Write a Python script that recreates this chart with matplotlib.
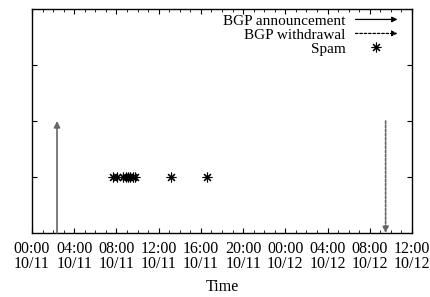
import matplotlib
matplotlib.use("Agg")
import matplotlib.pyplot as plt
from matplotlib.legend_handler import HandlerBase
from matplotlib.patches import FancyArrowPatch
from matplotlib.lines import Line2D

plt.rcParams['font.family'] = ['Liberation Serif', 'DejaVu Serif']

# Data (hours since 10/11 00:00)
announce_time = [2.37]
announce_from = [0]
announce_to = [2]
withdraw_time = [33.5]
withdraw_from = [2]
withdraw_to = [0]
spam_times = [7.65, 8.1, 8.6, 8.9, 9.1, 9.3, 9.55, 9.8, 13.15, 16.6]
spam_level = [1] * len(spam_times)

tick_hours = [0, 4, 8, 12, 16, 20, 24, 28, 32, 36]
tick_labels = ["00:00\n10/11", "04:00\n10/11", "08:00\n10/11", "12:00\n10/11",
               "16:00\n10/11", "20:00\n10/11", "00:00\n10/12", "04:00\n10/12",
               "08:00\n10/12", "12:00\n10/12"]
x_label = "Time"

fig = plt.figure(figsize=(4.31, 2.97), dpi=100)
ax = fig.add_axes([32/431, 1-233/297, 380/431, 224/297])

ax.set_xlim(0, 36)
ax.set_ylim(0, 4)

for t, y0, y1 in zip(announce_time, announce_from, announce_to):
    ax.annotate('', xy=(t, y1), xytext=(t, y0),
                arrowprops=dict(arrowstyle='-|>', mutation_scale=9, color='#666666',
                                lw=1.2, shrinkA=0, shrinkB=0))
for t, y0, y1 in zip(withdraw_time, withdraw_from, withdraw_to):
    ax.annotate('', xy=(t, y1), xytext=(t, y0),
                arrowprops=dict(arrowstyle='-|>', mutation_scale=9, color='#666666',
                                lw=1.2, linestyle=(0, (1.5, 1)), shrinkA=0, shrinkB=0))

ax.plot(spam_times, spam_level, linestyle='none', marker=(8, 2, 0),
        markersize=7, color='black', markeredgewidth=0.8)

ax.set_xticks(tick_hours)
ax.set_xticklabels(tick_labels, fontsize=11.5, linespacing=0.95)
ax.set_xticks(range(0, 37), minor=True)
ax.set_yticks([1, 2, 3])
ax.set_yticklabels([])
ax.tick_params(which='major', direction='in', length=3.5, width=0.8,
               top=True, right=True, pad=5.5)
ax.tick_params(which='minor', direction='in', length=2, width=0.6, top=True)
ax.set_xlabel(x_label, fontsize=11.5, labelpad=5)
for s in ax.spines.values():
    s.set_linewidth(1.0)


class ArrowHandler(HandlerBase):
    def __init__(self, ls):
        super().__init__()
        self.ls = ls

    def create_artists(self, legend, orig_handle, xdescent, ydescent, width,
                       height, fontsize, trans):
        y = height / 2 - ydescent
        a = FancyArrowPatch((-xdescent, y), (-xdescent + width, y),
                            arrowstyle='-|>', mutation_scale=8, lw=0.9,
                            color='black', linestyle=self.ls,
                            shrinkA=0, shrinkB=0, transform=trans)
        return [a]


h_ann = Line2D([], [], color='black')
h_wd = Line2D([], [], color='black', linestyle=':')
h_spam = Line2D([], [], linestyle='none', marker=(8, 2, 0), markersize=7,
                color='black', markeredgewidth=0.8)
leg = ax.legend([h_ann, h_wd, h_spam],
                ["BGP announcement", "BGP withdrawal", "Spam"],
                handler_map={h_ann: ArrowHandler('-'),
                             h_wd: ArrowHandler((0, (2, 1.5)))},
                loc='upper right', bbox_to_anchor=(0.99, 1.025),
                markerfirst=False, frameon=False, fontsize=11,
                handlelength=2.75, handletextpad=0.65, labelspacing=0.02,
                borderaxespad=0.3)
for t in leg.get_texts():
    t.set_ha('right')

fig.savefig("out.png", dpi=100)
